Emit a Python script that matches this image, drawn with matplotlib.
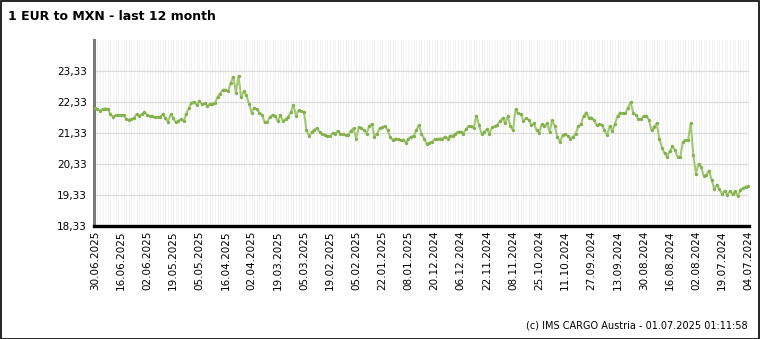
import matplotlib
matplotlib.use("Agg")
import matplotlib.pyplot as plt
from matplotlib.patches import Rectangle

# EUR/MXN daily rates, newest (left) to oldest (right), in blocks of 50 trading days
rates_jun_apr_2025 = [
    22.13, 22.10, 22.05, 22.10, 22.12, 22.11, 21.93, 21.85, 21.91, 21.90,
    21.90, 21.91, 21.79, 21.76, 21.77, 21.82, 21.94, 21.88, 21.93, 22.01,
    21.91, 21.88, 21.88, 21.84, 21.85, 21.85, 21.94, 21.82, 21.69, 21.93,
    21.82, 21.67, 21.73, 21.77, 21.71, 21.95, 22.14, 22.31, 22.34, 22.23,
    22.37, 22.25, 22.29, 22.20, 22.27, 22.28, 22.29, 22.50, 22.60, 22.72,
]
rates_apr_jan_2025 = [
    22.73, 22.68, 22.95, 23.15, 22.63, 23.17, 22.48, 22.67, 22.55, 22.28,
    21.99, 22.15, 22.09, 21.99, 21.92, 21.67, 21.69, 21.85, 21.92, 21.88,
    21.71, 21.90, 21.71, 21.77, 21.85, 22.01, 22.23, 21.89, 22.06, 22.03,
    22.00, 21.44, 21.22, 21.36, 21.44, 21.49, 21.36, 21.29, 21.28, 21.22,
    21.22, 21.33, 21.31, 21.40, 21.31, 21.29, 21.26, 21.28, 21.41, 21.48,
]
rates_feb_nov_2024 = [
    21.15, 21.51, 21.48, 21.42, 21.31, 21.55, 21.62, 21.21, 21.31, 21.48,
    21.51, 21.55, 21.42, 21.21, 21.10, 21.15, 21.13, 21.10, 21.12, 21.02,
    21.15, 21.21, 21.24, 21.42, 21.58, 21.31, 21.15, 20.99, 21.02, 21.05,
    21.13, 21.13, 21.15, 21.15, 21.21, 21.15, 21.24, 21.24, 21.31, 21.37,
    21.37, 21.31, 21.45, 21.56, 21.55, 21.48, 21.89, 21.58, 21.31, 21.35,
]
rates_nov_sep_2024 = [
    21.45, 21.31, 21.51, 21.55, 21.58, 21.72, 21.80, 21.64, 21.88, 21.55,
    21.42, 22.10, 21.96, 21.94, 21.72, 21.80, 21.76, 21.58, 21.64, 21.42,
    21.34, 21.61, 21.55, 21.64, 21.37, 21.75, 21.55, 21.21, 21.04, 21.26,
    21.29, 21.24, 21.15, 21.21, 21.31, 21.55, 21.61, 21.88, 21.99, 21.83,
    21.83, 21.75, 21.58, 21.61, 21.60, 21.42, 21.26, 21.55, 21.40, 21.62,
]
rates_sep_jul_2024 = [
    21.88, 21.99, 21.96, 21.96, 22.15, 22.32, 21.99, 21.91, 21.78, 21.78,
    21.88, 21.89, 21.75, 21.42, 21.53, 21.64, 21.15, 20.86, 20.67, 20.56,
    20.74, 20.90, 20.77, 20.56, 20.56, 21.04, 21.10, 21.10, 21.64, 20.61,
    20.02, 20.34, 20.23, 19.94, 19.96, 20.12, 19.83, 19.53, 19.66, 19.51,
    19.37, 19.47, 19.34, 19.45, 19.35, 19.45, 19.29, 19.50, 19.55, 19.60,
    19.62,
]

# Date labels shown every 10 trading days
date_labels = [
    "30.06.2025", "16.06.2025", "02.06.2025", "19.05.2025", "05.05.2025",
    "16.04.2025", "02.04.2025", "19.03.2025", "05.03.2025", "19.02.2025",
    "05.02.2025", "22.01.2025", "08.01.2025", "20.12.2024", "06.12.2024",
    "22.11.2024", "08.11.2024", "25.10.2024", "11.10.2024", "27.09.2024",
    "13.09.2024", "30.08.2024", "16.08.2024", "02.08.2024", "19.07.2024",
    "04.07.2024",
]
label_step = 10

y_ticks = [18.33, 19.33, 20.33, 21.33, 22.33, 23.33]
y_top = 24.33

rates = (rates_jun_apr_2025 + rates_apr_jan_2025 + rates_feb_nov_2024
         + rates_nov_sep_2024 + rates_sep_jul_2024)
xs = list(range(len(rates)))

W, H = 760, 339
fig = plt.figure(figsize=(W / 100, H / 100), dpi=100)
fig.patch.set_facecolor("white")

ax = fig.add_axes([94 / W, 1 - 226 / H, 655 / W, 186 / H])
ax.set_xlim(-0.3, len(rates) - 0.7)
ax.set_ylim(y_ticks[0], y_top)

# one faint vertical line per trading day
for x in xs:
    ax.axvline(x, color="#ededed", lw=0.5, zorder=0)
for y in y_ticks[1:]:
    ax.axhline(y, color="#dcdcdc", lw=0.9, zorder=1)

ax.plot(xs, rates, color="#a3c874", lw=1.5, zorder=3, solid_joinstyle="round")
ax.plot(xs, rates, ls="none", marker="o", ms=2.4, color="#82b04a",
        markeredgewidth=0, zorder=4)

ax.set_yticks(y_ticks)
ax.set_yticklabels([f"{v:.2f}".replace(".", ",") for v in y_ticks],
                   fontsize=7.5, family="DejaVu Sans")
ax.set_xticks(xs[::label_step])
ax.set_xticklabels(date_labels, rotation=90, fontsize=7.5,
                   family="DejaVu Sans", va="top")
ax.tick_params(axis="both", length=0, pad=5, colors="black")
ax.tick_params(axis="x", pad=3)

for side in ("top", "right"):
    ax.spines[side].set_visible(False)
ax.spines["left"].set_color("#7a7a7a")
ax.spines["left"].set_linewidth(2.2)
ax.spines["bottom"].set_color("black")
ax.spines["bottom"].set_linewidth(2.4)

fig.text(8 / W, 1 - 17 / H, "1 EUR to MXN - last 12 month", fontsize=9,
         fontweight="bold", ha="left", va="center", family="DejaVu Sans")
fig.text(748 / W, 1 - 325 / H, "(c) IMS CARGO Austria - 01.07.2025 01:11:58",
         fontsize=7, ha="right", va="center", family="DejaVu Sans")

# outer frame
fig.add_artist(Rectangle((0.5 / W, 0.5 / H), 1 - 1.5 / W, 1 - 1.5 / H,
                         transform=fig.transFigure, fill=False,
                         edgecolor="black", lw=1.2))

fig.savefig("out.png", dpi=100)
